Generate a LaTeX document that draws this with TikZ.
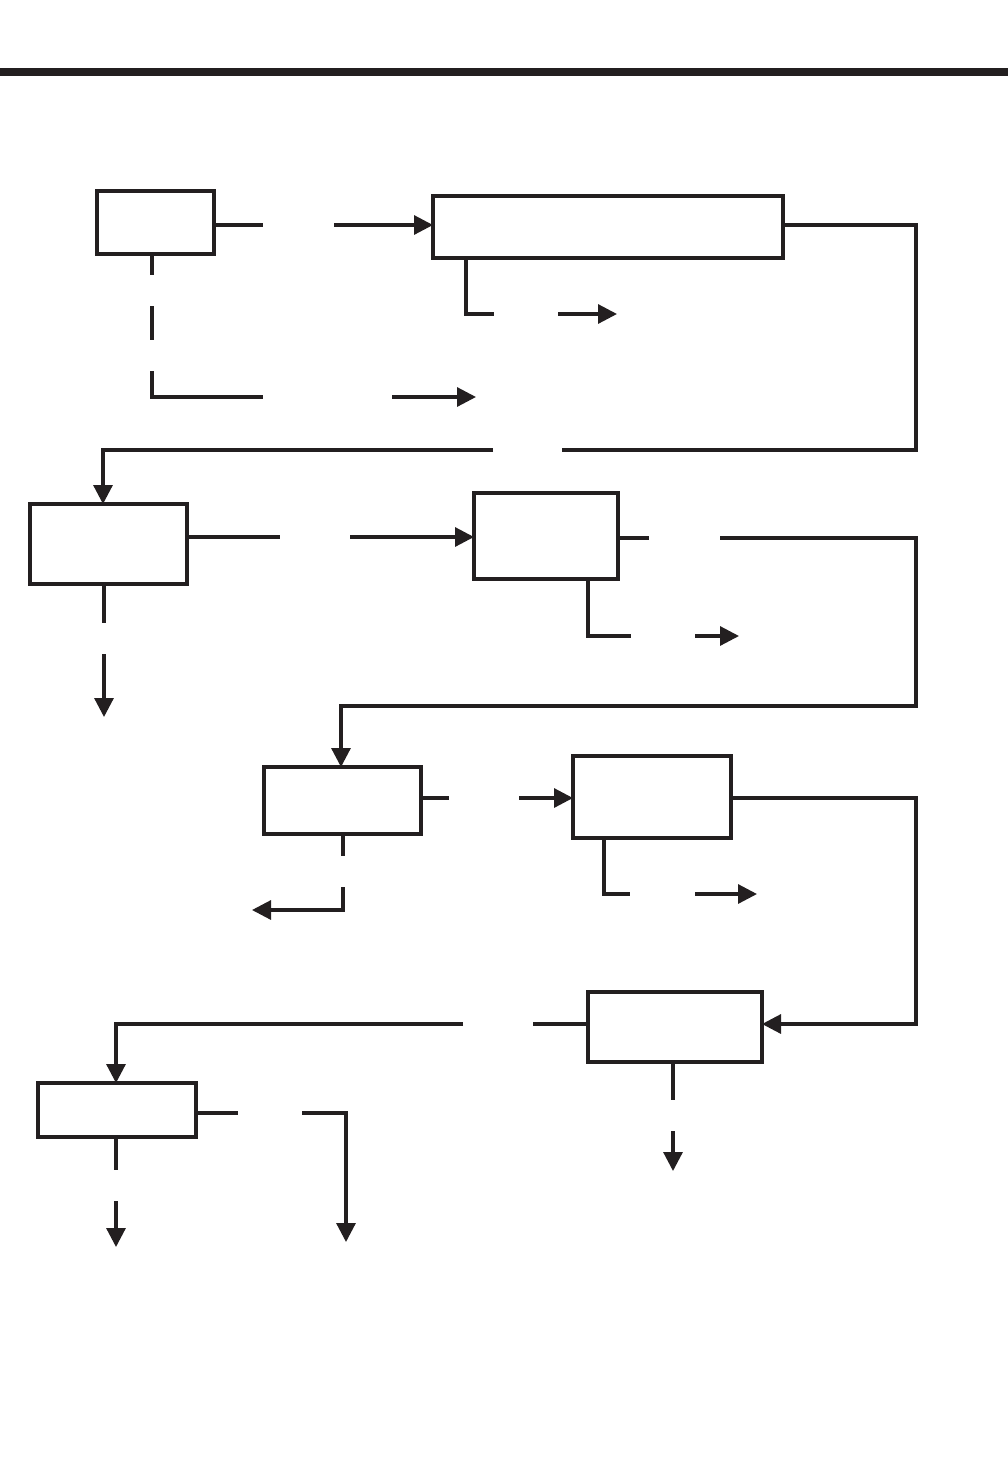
\documentclass[tikz,border=0pt]{standalone}
\usetikzlibrary{arrows.meta}
\definecolor{ink}{HTML}{231F20}
\begin{document}
\begin{tikzpicture}[x=1pt,y=-1pt,
  box/.style={draw=ink,line width=3.6pt,rectangle,inner sep=0pt,outer sep=0pt},
  conn/.style={draw=ink,line width=3.2pt},
  arr/.style={conn,-{Triangle[length=19pt,width=19pt]}}]
\useasboundingbox (0,0) rectangle (1008,1475);
\fill[ink] (0,68) rectangle (1008,76);
% boxes
\node[box,minimum width=117pt,minimum height=63pt] (A) at (155.5,222.5) {};
\node[box,minimum width=350pt,minimum height=62pt] (B) at (608,227) {};
\node[box,minimum width=157pt,minimum height=80pt] (C) at (108.5,544) {};
\node[box,minimum width=144pt,minimum height=86pt] (D) at (546,536) {};
\node[box,minimum width=157pt,minimum height=67pt] (E) at (342.5,800.5) {};
\node[box,minimum width=158pt,minimum height=82pt] (F) at (652,797) {};
\node[box,minimum width=174pt,minimum height=70pt] (G) at (675,1027) {};
\node[box,minimum width=158pt,minimum height=54pt] (H) at (117,1110) {};
% coordinates
\coordinate (a1) at (263,225); \coordinate (a2) at (334,225);
\coordinate (b0) at (466,314); \coordinate (b1) at (494,314);
\coordinate (b2) at (558,314); \coordinate (b3) at (617,314);
\coordinate (d1) at (152,275); \coordinate (d2) at (152,306);
\coordinate (d3) at (152,340); \coordinate (d4) at (152,371);
\coordinate (d5) at (263,397); \coordinate (d6) at (392,397);
\coordinate (d7) at (476,397);
\coordinate (r1) at (916,450); \coordinate (g1) at (562,450);
\coordinate (g2) at (493,450); \coordinate (g3) at (103,450);
\coordinate (c1) at (280,537); \coordinate (c2) at (350,537);
\coordinate (c3) at (104,623); \coordinate (c4) at (104,654);
\coordinate (c5) at (104,717);
\coordinate (e1) at (649,538); \coordinate (e2) at (720,538);
\coordinate (r2) at (916,706); \coordinate (e3) at (341,706);
\coordinate (f0) at (588,636); \coordinate (f1) at (631,636);
\coordinate (f2) at (695,636); \coordinate (f3) at (739,636);
\coordinate (h1) at (449,798); \coordinate (h2) at (519,798);
\coordinate (i1) at (343,856); \coordinate (i2) at (343,887);
\coordinate (i3) at (252,910);
\coordinate (r3) at (916,1024);
\coordinate (j0) at (604,894); \coordinate (j1) at (630,894);
\coordinate (j2) at (695,894); \coordinate (j3) at (757,894);
\coordinate (k1) at (533,1024); \coordinate (k2) at (463,1024);
\coordinate (k3) at (116,1024);
\coordinate (l1) at (673,1100); \coordinate (l2) at (673,1131);
\coordinate (l3) at (673,1171);
\coordinate (m1) at (238,1113); \coordinate (m2) at (302,1113);
\coordinate (m3) at (346,1242);
\coordinate (n1) at (116,1170); \coordinate (n2) at (116,1201);
\coordinate (n3) at (116,1247);
% connectors
\draw[conn] (A.east|-a1) -- (a1);
\draw[arr] (a2) -- (B.west|-a2);
\draw[conn] (B.south-|b0) |- (b1);
\draw[arr] (b2) -- (b3);
\draw[conn] (A.south-|d1) -- (d1);
\draw[conn] (d2) -- (d3);
\draw[conn] (d4) |- (d5);
\draw[arr] (d6) -- (d7);
\draw[conn] (B.east|-a1) -| (r1) -- (g1);
\draw[arr] (g2) -| (C.north-|g3);
\draw[conn] (C.east|-c1) -- (c1);
\draw[arr] (c2) -- (D.west|-c2);
\draw[conn] (C.south-|c3) -- (c3);
\draw[arr] (c4) -- (c5);
\draw[conn] (D.east|-e1) -- (e1);
\draw[arr] (e2) -| (r2) -| (E.north-|e3);
\draw[conn] (D.south-|f0) |- (f1);
\draw[arr] (f2) -- (f3);
\draw[conn] (E.east|-h1) -- (h1);
\draw[arr] (h2) -- (F.west|-h2);
\draw[conn] (E.south-|i1) -- (i1);
\draw[arr] (i2) |- (i3);
\draw[arr] (F.east|-h1) -| (r3) -- (G.east|-r3);
\draw[conn] (F.south-|j0) |- (j1);
\draw[arr] (j2) -- (j3);
\draw[conn] (G.west|-k1) -- (k1);
\draw[arr] (k2) -| (H.north-|k3);
\draw[conn] (G.south-|l1) -- (l1);
\draw[arr] (l2) -- (l3);
\draw[conn] (H.east|-m1) -- (m1);
\draw[arr] (m2) -| (m3);
\draw[conn] (H.south-|n1) -- (n1);
\draw[arr] (n2) -- (n3);
\end{tikzpicture}
\end{document}
